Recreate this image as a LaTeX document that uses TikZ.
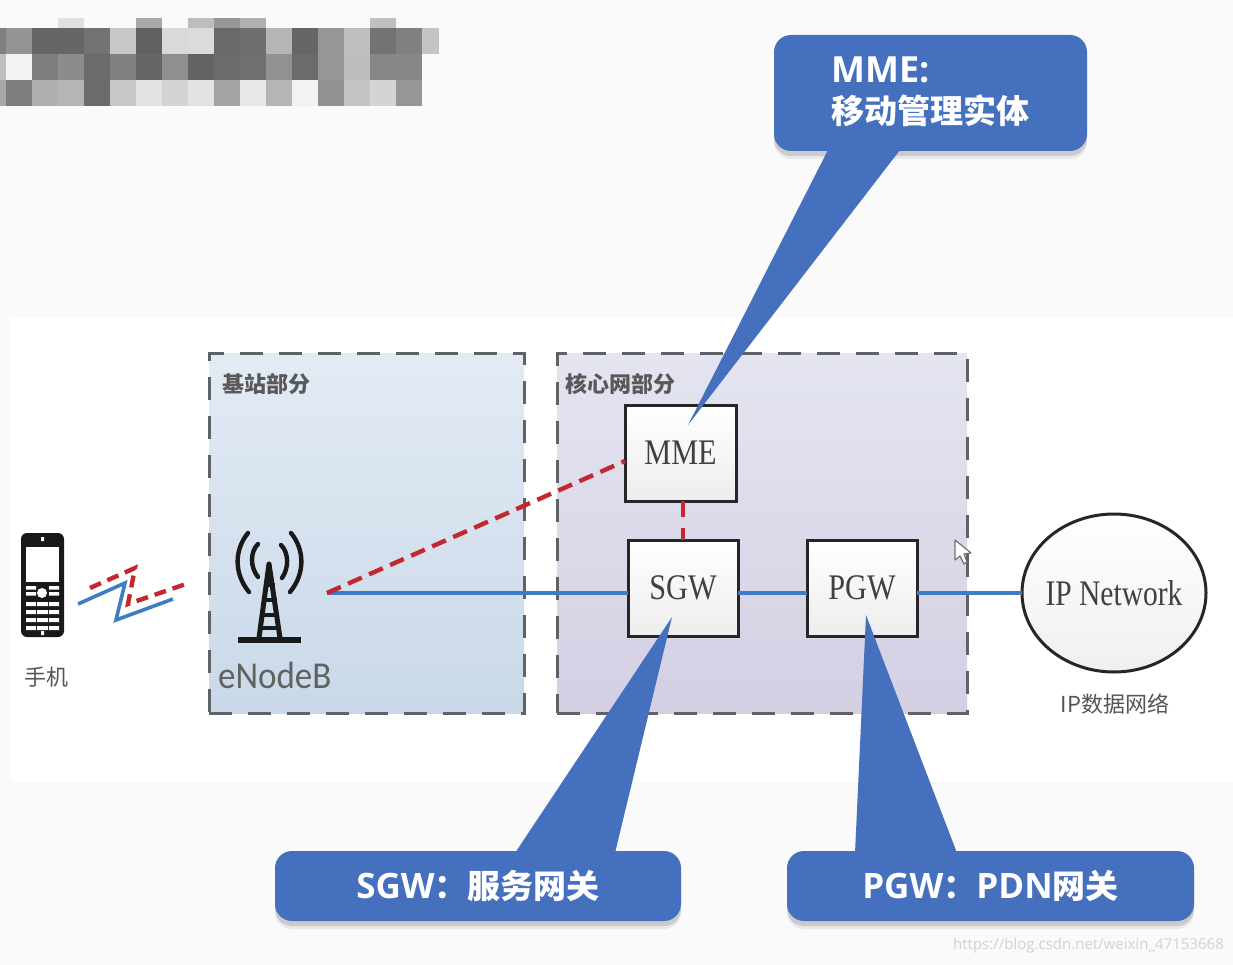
\documentclass[tikz,border=0pt]{standalone}
\usepackage{fontspec}
\setmainfont{Open Sans}
\newfontfamily\cjk{Noto Sans CJK SC}
\newfontfamily\serifen{Liberation Serif}
\newfontfamily\sanslight{Carlito}
\usetikzlibrary{calc,shapes.geometric}
\definecolor{callblue}{HTML}{4470BE}
\definecolor{linkblue}{HTML}{3F7CC6}
\definecolor{linkred}{HTML}{C4272F}
\definecolor{dashgray}{HTML}{5F6266}
\definecolor{labgray}{HTML}{555555}
\definecolor{basetop}{HTML}{E3EBF5}
\definecolor{basebot}{HTML}{C9D8E8}
\definecolor{coretop}{HTML}{E4E5F1}
\definecolor{corebot}{HTML}{D4CFE3}
\newcommand{\fs}[1]{\fontsize{#1}{#1}\selectfont}
\newcommand{\nar}[2]{\raisebox{-1.5pt}{\scalebox{#1}[1]{#2}}}
\newcommand{\wcolon}{{\cjk\fs{33}\symbol{"FF1A}}}
\tikzset{
  x=1pt,y=-1pt,
  px/.style={draw=none,fill=black!#1},
  region/.style={draw=dashgray,line width=3pt,dash pattern=on 23pt off 16pt,minimum height=360pt,inner sep=0pt,outer sep=0pt},
  netbox/.style={draw=black!85,line width=3pt,top color=white,bottom color=black!7,minimum width=110pt,minimum height=96pt,inner sep=0pt,outer sep=0pt,font=\serifen\fs{36},text=black!75},
  callbox/.style={fill=callblue,rounded corners=17pt,inner sep=0pt,outer sep=0pt,text=white,
    preaction={fill=black,opacity=.07,transform canvas={yshift=-8pt}},
    preaction={fill=black,opacity=.12,transform canvas={yshift=-5pt}}},
  calltail/.style={fill=callblue,draw=none},
  bluelink/.style={draw=linkblue,line width=3.8pt},
  redlink/.style={draw=linkred,line width=4.4pt,dash pattern=on 15pt off 8pt},
  lab/.style={inner sep=0pt,text=labgray,font=\cjk\fs{22}},
  towerline/.style={draw=black!90,line width=4.4pt,line cap=round},
  keypad/.style={fill=white,draw=none}
}
\begin{document}
\begin{tikzpicture}
\useasboundingbox (0,0) rectangle (1233,965);
\fill[black!2] (0,0) rectangle (1233,965);
\fill[white] (11,318) rectangle (1233,782);
% mosaic
\foreach \x/\w/\g in {58/26/12,136/26/34,188/26/26,214/26/41,240/26/31,370/26/25}
  \fill[px=\g] (\x,18) rectangle ++(\w,10);
\foreach \x/\w/\g in {0/6/50,6/26/42,32/26/60,58/26/60,84/26/55,110/26/22,136/26/62,162/26/15,188/26/14,214/26/59,240/26/57,266/26/29,292/26/60,318/26/41,344/26/25,370/26/55,396/26/50,422/17/23}
  \fill[px=\g] (\x,28) rectangle ++(\w,26);
\foreach \x/\w/\g in {0/6/25,6/26/5,32/26/51,58/26/45,84/26/58,110/26/50,136/26/60,162/26/44,188/26/61,214/26/58,240/26/56,266/26/43,292/26/58,318/26/41,344/26/26,370/26/47,396/26/47}
  \fill[px=\g] (\x,54) rectangle ++(\w,26);
\foreach \x/\w/\g in {0/6/34,6/26/51,32/26/31,58/26/29,84/26/58,110/26/22,136/26/11,162/26/17,188/26/11,214/26/36,240/26/9,266/26/29,292/26/5,318/26/43,344/26/23,370/26/17,396/26/41}
  \fill[px=\g] (\x,80) rectangle ++(\w,26);
% regions
\node[region,minimum width=315pt,top color=basetop,bottom color=basebot,anchor=north west] (basebox) at (209,353) {};
\node[region,minimum width=410pt,top color=coretop,bottom color=corebot,anchor=north west] (corebox) at (557,353) {};
\node[lab,font=\cjk\bfseries\fs{22},text=black!65,anchor=west] (baselab) at (222,384) {基站部分};
\node[lab,font=\cjk\bfseries\fs{22},text=black!65,anchor=west] (corelab) at (565,384) {核心网部分};
% network boxes
\node[netbox,minimum width=111pt,anchor=north west] (mme) at (625,405) {\nar{.84}{MME}};
\node[netbox,anchor=north west] (sgw) at (628,540) {\nar{.84}{SGW}};
\node[netbox,anchor=north west] (pgw) at (807,540) {\nar{.84}{PGW}};
\node[draw=black!85,line width=3pt,ellipse,minimum width=184pt,minimum height=158pt,inner sep=0pt,outer sep=0pt,top color=white,bottom color=black!6] (ipnet) at (1114,593) {};
\node[inner sep=0pt,font=\serifen\fs{36},text=black!75] (iptext) at (ipnet.center) {\nar{.82}{IP Network}};
\node[lab,anchor=center] (iplab) at (1115,704) {IP数据网络};
% tower
\coordinate (enb) at (327,593);
\draw[draw=black!90,line width=5.5pt] (238,640) -- (301,640);
\draw[black!90,line width=5pt,line join=round] (259,638) -- (269,564) -- (280,638);
\draw[black!90,line width=3.6pt] (264,585) -- (275,585) (262,600) -- (277,600) (261,615) -- (278,615) (260,628) -- (279,628);
\draw[towerline] (248,533) .. controls (234,550) and (234,574) .. (249,592);
\draw[towerline] (291,533) .. controls (305,550) and (305,574) .. (290,592);
\draw[towerline] (258,544) .. controls (250,552) and (250,567) .. (258,577);
\draw[towerline] (281,545) .. controls (289,553) and (289,568) .. (282,578);
\node[inner sep=0pt,text=black!62,font=\sanslight\fs{38},anchor=west] (enblab) at (218,675) {\scalebox{.92}[1]{eNodeB}};
% phone
\fill[black!90,rounded corners=6pt] (21,533) rectangle (64,637);
\fill[white] (26,547) rectangle (59,582);
\fill[white] (41,537) rectangle (44,541) (41,631) rectangle (44,635);
\foreach \yy in {586,592}{\fill[keypad] (26,\yy) rectangle ++(10,3.5) (49,\yy) rectangle ++(10,3.5);}
\fill[keypad] (42,593) circle (5);
\foreach \yy in {602,610,618,626}{\fill[keypad] (26,\yy) rectangle ++(10,4) (37,\yy) rectangle ++(11,4) (49,\yy) rectangle ++(10,4);}
\node[lab,anchor=center] (phonelab) at (46,677) {手机};
% radio link
\coordinate (r0) at (90,588); \coordinate (r1) at (135,568); \coordinate (r2) at (128,604); \coordinate (r3) at (186,584);
\coordinate (b0) at (78,604); \coordinate (b1) at (125,583); \coordinate (b2) at (116,620); \coordinate (b3) at (173,599);
\draw[linkblue,line width=3.6pt] (b0) -- (b1) -- (b2) -- (b3);
\draw[redlink,dash pattern=on 12pt off 7pt] (r0) -- (r1) -- (r2) -- (r3);
% links
\draw[bluelink] (enb) -- (enb -| sgw.west);
\draw[bluelink] (enb -| sgw.east) -- (enb -| pgw.west);
\draw[bluelink] (enb -| pgw.east) -- (ipnet.west);
\coordinate (mmeport) at ($(mme.west)+(0,8)$);
\draw[redlink] (enb) -- (mmeport);
\draw[redlink,dash pattern=on 16pt off 11pt] (mme.south -| 683,0) -- (sgw.north -| 683,0);
% cursor
\draw[draw=black!55,fill=white,line width=1.2pt,line join=round] (955,540) -- (955,560) -- (960,556) -- (964,564) -- (967,562) -- (964,554) -- (971,553) -- cycle;
% callouts
\node[callbox,minimum width=313pt,minimum height=116pt,anchor=north west] (mmecall) at (774,35) {};
\node[inner sep=0pt,text=white,anchor=north west,align=left,font=\fs{36}\bfseries] (mmetext) at (831,57) {MME:\\[5pt]{\cjk\fs{33}移动管理实体}};
\node[callbox,minimum width=406pt,minimum height=70pt,anchor=north west] (sgwcall) at (275,851) {\fs{35}\bfseries SGW\wcolon{\cjk\fs{33}服务网关}};
\node[callbox,minimum width=407pt,minimum height=70pt,anchor=north west] (pgwcall) at (787,851) {\fs{35}\bfseries PGW\wcolon PDN{\cjk\fs{33}网关}};
\coordinate (mmetip) at (688,425);
\coordinate (sgwtip) at (672,617);
\coordinate (pgwtip) at (866,615);
\fill[calltail] (828,150) -- (mmetip) -- (900,150) -- cycle;
\fill[calltail] (515,853) -- (sgwtip) -- (615,853) -- cycle;
\fill[calltail] (855,853) -- (pgwtip) -- (957,853) -- cycle;
% watermark
\node[inner sep=0pt,text=black!18,font=\fs{15},anchor=east] (wm) at (1224,946) {https://blog.csdn.net/weixin\_47153668};
\end{tikzpicture}
\end{document}
